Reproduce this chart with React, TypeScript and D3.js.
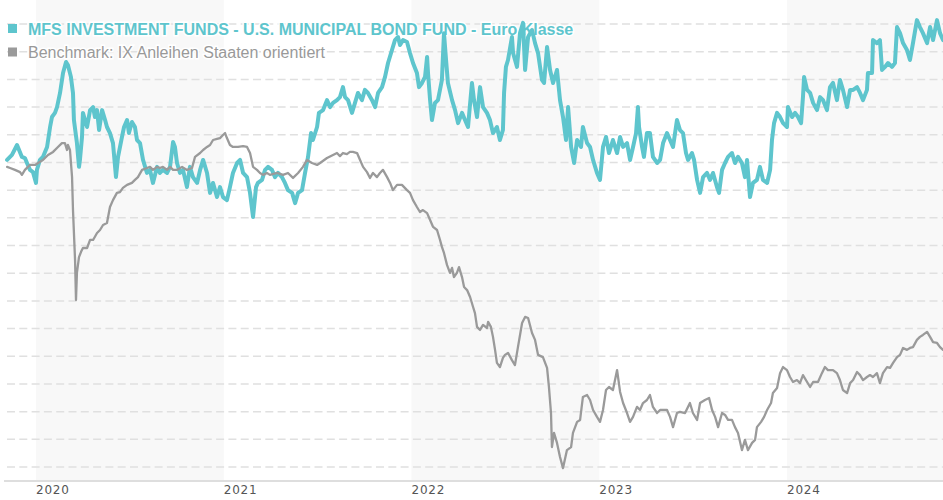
import React from "react";
import * as d3 from "d3";

// x: decimal year, y: index value (gridlines every 10)
const fundSeries: [number, number][] = [
  [2019.846, 110.9], [2019.872, 112.7], [2019.899, 116.3], [2019.925, 112.0], [2019.941, 111.6],
  [2019.952, 109.8], [2019.968, 107.3], [2019.984, 106.5], [2020.0, 102.6], [2020.005, 107.3],
  [2020.021, 110.9], [2020.037, 112.0], [2020.059, 115.6], [2020.075, 122.8], [2020.085, 126.4],
  [2020.101, 127.9], [2020.112, 130.0], [2020.128, 135.1], [2020.144, 142.3], [2020.16, 146.3],
  [2020.17, 145.2], [2020.186, 140.9], [2020.197, 135.1], [2020.202, 125.3], [2020.218, 117.0],
  [2020.229, 108.4], [2020.234, 110.9], [2020.245, 119.2], [2020.25, 127.9], [2020.261, 125.3],
  [2020.272, 122.8], [2020.288, 128.9], [2020.304, 130.0], [2020.314, 126.4], [2020.325, 128.9],
  [2020.336, 121.7], [2020.352, 128.9], [2020.368, 125.3], [2020.378, 122.8], [2020.394, 120.6],
  [2020.41, 117.0], [2020.426, 104.7], [2020.437, 112.0], [2020.458, 119.2], [2020.469, 122.8],
  [2020.485, 125.3], [2020.495, 120.6], [2020.511, 124.6], [2020.527, 122.8], [2020.538, 118.1],
  [2020.554, 117.0], [2020.57, 110.9], [2020.591, 106.2], [2020.607, 107.3], [2020.623, 102.6],
  [2020.645, 108.4], [2020.66, 106.2], [2020.676, 107.3], [2020.698, 106.2], [2020.714, 108.4],
  [2020.73, 117.4], [2020.74, 115.6], [2020.751, 109.8], [2020.767, 106.2], [2020.783, 107.3],
  [2020.804, 101.1], [2020.82, 108.4], [2020.836, 104.7], [2020.858, 102.6], [2020.874, 107.3],
  [2020.89, 110.9], [2020.911, 106.2], [2020.927, 99.0], [2020.943, 102.6], [2020.964, 97.5],
  [2020.98, 101.1], [2020.996, 97.5], [2021.017, 96.4], [2021.033, 101.1], [2021.049, 106.2],
  [2021.071, 109.8], [2021.087, 110.9], [2021.103, 106.2], [2021.124, 104.7], [2021.14, 99.0],
  [2021.156, 90.3], [2021.172, 101.1], [2021.182, 102.6], [2021.204, 103.7], [2021.22, 107.3],
  [2021.236, 108.4], [2021.257, 107.3], [2021.273, 104.7], [2021.289, 106.2], [2021.31, 104.7],
  [2021.326, 102.6], [2021.342, 100.0], [2021.364, 99.0], [2021.38, 95.3], [2021.396, 99.0],
  [2021.417, 100.0], [2021.433, 106.2], [2021.449, 112.0], [2021.465, 120.6], [2021.475, 118.1],
  [2021.497, 122.8], [2021.507, 127.9], [2021.529, 128.9], [2021.55, 132.5], [2021.566, 130.0],
  [2021.582, 131.5], [2021.603, 132.5], [2021.619, 133.6], [2021.635, 137.2], [2021.646, 133.6],
  [2021.662, 132.5], [2021.683, 127.9], [2021.699, 131.5], [2021.715, 135.1], [2021.736, 132.5],
  [2021.752, 136.2], [2021.768, 135.1], [2021.79, 132.5], [2021.806, 130.0], [2021.822, 135.1],
  [2021.843, 137.2], [2021.859, 140.9], [2021.875, 145.9], [2021.896, 150.6], [2021.912, 154.2],
  [2021.928, 155.3], [2021.939, 152.4], [2021.955, 154.2], [2021.976, 153.5], [2021.992, 149.5],
  [2022.008, 145.9], [2022.029, 142.3], [2022.04, 137.2], [2022.056, 138.7], [2022.072, 140.9],
  [2022.083, 148.1], [2022.088, 142.3], [2022.099, 132.5], [2022.109, 125.3], [2022.125, 131.5],
  [2022.141, 132.5], [2022.162, 139.8], [2022.173, 156.7], [2022.184, 147.0], [2022.194, 138.7],
  [2022.216, 132.5], [2022.232, 128.9], [2022.248, 124.2], [2022.269, 127.9], [2022.285, 125.3],
  [2022.301, 122.8], [2022.322, 138.7], [2022.333, 132.5], [2022.349, 126.4], [2022.365, 137.2],
  [2022.381, 130.0], [2022.402, 127.9], [2022.418, 125.3], [2022.434, 120.6], [2022.455, 122.8],
  [2022.471, 118.1], [2022.487, 121.7], [2022.493, 135.1], [2022.503, 144.5], [2022.514, 147.0],
  [2022.535, 155.3], [2022.541, 149.5], [2022.562, 144.5], [2022.578, 156.7], [2022.594, 160.4],
  [2022.605, 143.4], [2022.621, 155.3], [2022.642, 157.8], [2022.658, 153.1], [2022.674, 149.5],
  [2022.695, 139.8], [2022.706, 138.7], [2022.722, 151.7], [2022.738, 143.4], [2022.754, 138.7],
  [2022.775, 143.4], [2022.791, 132.5], [2022.807, 126.4], [2022.823, 118.1], [2022.834, 130.0],
  [2022.85, 115.6], [2022.866, 109.8], [2022.882, 118.1], [2022.903, 115.6], [2022.913, 122.8],
  [2022.935, 117.0], [2022.951, 115.6], [2022.967, 110.9], [2022.988, 106.2], [2023.004, 103.7],
  [2023.02, 115.6], [2023.036, 119.2], [2023.052, 113.4], [2023.073, 118.1], [2023.095, 113.4],
  [2023.111, 119.2], [2023.127, 115.6], [2023.148, 117.0], [2023.164, 110.9], [2023.18, 115.6],
  [2023.196, 120.6], [2023.206, 130.0], [2023.212, 122.8], [2023.228, 115.6], [2023.238, 112.0],
  [2023.254, 120.6], [2023.27, 120.6], [2023.286, 112.0], [2023.308, 109.8], [2023.324, 110.9],
  [2023.34, 117.0], [2023.361, 120.6], [2023.377, 118.1], [2023.393, 115.6], [2023.414, 125.3],
  [2023.43, 121.7], [2023.446, 120.6], [2023.462, 113.4], [2023.473, 110.9], [2023.494, 113.4],
  [2023.505, 110.9], [2023.521, 103.7], [2023.537, 99.0], [2023.553, 104.7], [2023.574, 106.2],
  [2023.59, 103.7], [2023.606, 106.2], [2023.627, 101.1], [2023.638, 99.0], [2023.654, 107.3],
  [2023.67, 109.8], [2023.686, 112.0], [2023.707, 113.4], [2023.723, 109.8], [2023.739, 112.0],
  [2023.76, 109.8], [2023.776, 104.7], [2023.787, 110.9], [2023.803, 97.5], [2023.819, 102.6],
  [2023.84, 103.7], [2023.856, 108.4], [2023.872, 103.7], [2023.894, 102.6], [2023.91, 107.3],
  [2023.92, 118.1], [2023.931, 124.2], [2023.947, 127.9], [2023.963, 126.4], [2023.979, 124.2],
  [2024.0, 122.8], [2024.005, 130.0], [2024.027, 126.4], [2024.043, 127.9], [2024.059, 126.4],
  [2024.075, 124.2], [2024.085, 133.6], [2024.091, 140.9], [2024.107, 136.2], [2024.123, 135.1],
  [2024.139, 131.5], [2024.16, 128.9], [2024.176, 133.6], [2024.192, 132.5], [2024.213, 128.9],
  [2024.229, 137.2], [2024.245, 138.7], [2024.266, 132.5], [2024.282, 139.8], [2024.298, 136.2],
  [2024.32, 130.0], [2024.336, 136.2], [2024.352, 136.2], [2024.373, 137.2], [2024.389, 135.1],
  [2024.405, 132.5], [2024.426, 136.2], [2024.431, 142.3], [2024.453, 142.3], [2024.458, 154.2],
  [2024.479, 153.1], [2024.495, 154.2], [2024.506, 143.4], [2024.522, 144.5], [2024.538, 145.9],
  [2024.559, 144.5], [2024.575, 145.9], [2024.586, 158.9], [2024.602, 156.7], [2024.618, 153.1],
  [2024.639, 150.6], [2024.655, 147.0], [2024.671, 153.1], [2024.692, 161.4], [2024.708, 158.9],
  [2024.724, 156.7], [2024.746, 153.1], [2024.762, 158.9], [2024.778, 154.2], [2024.799, 161.4],
  [2024.815, 156.7], [2024.831, 154.2],
];

const benchSeries: [number, number][] = [
  [2019.846, 108.4], [2019.862, 108.0], [2019.888, 107.3], [2019.915, 106.5], [2019.925, 105.5],
  [2019.941, 107.3], [2019.968, 109.1], [2019.995, 109.1], [2020.011, 109.8], [2020.037, 110.9],
  [2020.064, 112.7], [2020.091, 113.8], [2020.117, 115.6], [2020.138, 117.0], [2020.154, 117.0],
  [2020.165, 114.5], [2020.17, 116.3], [2020.181, 114.5], [2020.192, 104.7], [2020.197, 92.8],
  [2020.208, 74.8], [2020.213, 60.3], [2020.218, 70.1], [2020.229, 75.8], [2020.24, 77.7],
  [2020.25, 79.1], [2020.272, 79.1], [2020.288, 82.0], [2020.304, 82.0], [2020.325, 84.5],
  [2020.341, 85.6], [2020.357, 87.4], [2020.378, 88.1], [2020.394, 93.9], [2020.41, 96.4],
  [2020.431, 99.0], [2020.447, 99.3], [2020.463, 100.8], [2020.485, 101.9], [2020.511, 102.6],
  [2020.527, 103.7], [2020.543, 104.7], [2020.565, 107.3], [2020.591, 108.0], [2020.607, 108.4],
  [2020.623, 107.3], [2020.645, 108.4], [2020.66, 108.0], [2020.676, 108.4], [2020.698, 107.3],
  [2020.714, 108.4], [2020.73, 107.3], [2020.751, 107.3], [2020.778, 108.4], [2020.804, 107.3],
  [2020.831, 108.0], [2020.847, 112.0], [2020.874, 113.4], [2020.89, 114.5], [2020.911, 115.6],
  [2020.927, 116.3], [2020.943, 118.1], [2020.964, 118.5], [2020.98, 118.8], [2020.996, 119.9],
  [2021.007, 120.6], [2021.017, 118.8], [2021.033, 116.3], [2021.049, 115.6], [2021.076, 115.6],
  [2021.103, 115.9], [2021.124, 115.6], [2021.14, 113.4], [2021.156, 108.4], [2021.177, 107.3],
  [2021.193, 106.2], [2021.209, 105.5], [2021.23, 106.2], [2021.246, 105.5], [2021.284, 106.2],
  [2021.316, 105.5], [2021.342, 106.2], [2021.369, 104.4], [2021.396, 106.2], [2021.422, 108.4],
  [2021.443, 110.9], [2021.47, 109.8], [2021.497, 109.1], [2021.513, 109.8], [2021.55, 111.6],
  [2021.582, 112.7], [2021.603, 113.4], [2021.619, 112.3], [2021.635, 113.4], [2021.656, 113.0],
  [2021.672, 113.8], [2021.688, 113.8], [2021.71, 113.4], [2021.726, 110.9], [2021.742, 108.4],
  [2021.763, 106.5], [2021.779, 104.4], [2021.795, 106.2], [2021.816, 104.7], [2021.832, 106.2],
  [2021.848, 107.3], [2021.87, 104.7], [2021.886, 102.6], [2021.901, 100.0], [2021.923, 101.9],
  [2021.949, 101.9], [2021.976, 100.0], [2021.992, 99.0], [2022.008, 96.4], [2022.029, 93.9],
  [2022.045, 92.1], [2022.061, 92.8], [2022.083, 91.7], [2022.099, 89.2], [2022.115, 86.7],
  [2022.136, 85.6], [2022.152, 82.0], [2022.162, 79.5], [2022.173, 77.3], [2022.189, 73.0],
  [2022.205, 70.1], [2022.216, 71.9], [2022.226, 68.6], [2022.242, 70.1], [2022.253, 72.2],
  [2022.269, 68.6], [2022.28, 65.0], [2022.296, 63.9], [2022.312, 61.4], [2022.328, 57.8],
  [2022.338, 55.6], [2022.349, 50.6], [2022.365, 49.5], [2022.381, 51.3], [2022.402, 50.2],
  [2022.408, 52.4], [2022.423, 50.6], [2022.434, 47.0], [2022.445, 42.3], [2022.455, 37.6],
  [2022.471, 36.1], [2022.487, 39.4], [2022.498, 40.5], [2022.514, 41.2], [2022.535, 38.6],
  [2022.551, 36.8], [2022.567, 43.3], [2022.589, 52.0], [2022.605, 54.2], [2022.621, 53.8],
  [2022.642, 48.4], [2022.658, 45.9], [2022.674, 40.5], [2022.7, 39.7], [2022.722, 35.8],
  [2022.732, 28.9], [2022.743, 19.5], [2022.748, 7.2], [2022.759, 12.3], [2022.775, 8.7],
  [2022.791, 3.6], [2022.807, -0.4], [2022.828, 6.1], [2022.85, 7.2], [2022.86, 12.3],
  [2022.882, 16.3], [2022.898, 17.0], [2022.913, 25.3], [2022.935, 26.0], [2022.951, 24.2],
  [2022.967, 20.6], [2022.988, 18.1], [2023.004, 16.3], [2023.02, 20.6], [2023.036, 27.8],
  [2023.052, 28.9], [2023.073, 27.8], [2023.095, 35.0], [2023.111, 27.1], [2023.127, 23.1],
  [2023.148, 19.5], [2023.164, 16.3], [2023.18, 18.1], [2023.201, 21.7], [2023.217, 20.6],
  [2023.233, 23.1], [2023.254, 24.2], [2023.27, 26.0], [2023.286, 21.7], [2023.308, 19.5],
  [2023.324, 20.6], [2023.361, 20.6], [2023.377, 18.1], [2023.393, 14.4], [2023.414, 19.5],
  [2023.43, 19.9], [2023.457, 19.5], [2023.483, 23.1], [2023.499, 19.5], [2023.521, 17.0],
  [2023.537, 23.1], [2023.563, 24.2], [2023.585, 24.9], [2023.601, 20.6], [2023.617, 18.1],
  [2023.633, 14.4], [2023.654, 19.5], [2023.67, 18.8], [2023.686, 17.0], [2023.707, 17.0],
  [2023.723, 14.4], [2023.739, 12.3], [2023.76, 6.1], [2023.776, 9.8], [2023.792, 6.1],
  [2023.814, 8.7], [2023.83, 9.8], [2023.84, 14.4], [2023.862, 16.3], [2023.878, 18.1],
  [2023.894, 20.6], [2023.915, 23.1], [2023.925, 26.7], [2023.947, 28.5], [2023.963, 33.9],
  [2023.979, 36.1], [2024.0, 35.0], [2024.016, 32.5], [2024.032, 30.7], [2024.053, 31.4],
  [2024.069, 30.3], [2024.085, 33.2], [2024.107, 30.7], [2024.123, 28.9], [2024.139, 30.7],
  [2024.165, 30.7], [2024.186, 33.9], [2024.202, 36.1], [2024.218, 35.0], [2024.245, 35.0],
  [2024.266, 33.9], [2024.282, 31.4], [2024.298, 27.8], [2024.32, 26.7], [2024.336, 30.3],
  [2024.352, 31.4], [2024.373, 34.3], [2024.389, 33.2], [2024.405, 31.4], [2024.426, 32.5],
  [2024.442, 33.2], [2024.458, 32.5], [2024.479, 33.9], [2024.495, 30.3], [2024.511, 33.9],
  [2024.533, 36.1], [2024.549, 35.8], [2024.565, 37.6], [2024.586, 39.7], [2024.602, 40.5],
  [2024.618, 43.0], [2024.639, 42.3], [2024.655, 43.0], [2024.671, 43.3], [2024.692, 45.9],
  [2024.708, 47.0], [2024.724, 47.7], [2024.746, 48.8], [2024.762, 47.0], [2024.778, 45.1],
  [2024.799, 44.8], [2024.815, 43.3], [2024.831, 42.3],
];

const yearTicks = [2020, 2021, 2022, 2023, 2024];
const shadedYears = [2020, 2022, 2024];
const gridValues = [0, 10, 20, 30, 40, 50, 60, 70, 80, 90, 100, 110, 120, 130, 140, 150, 160];
const legendLabels = [
  "MFS INVESTMENT FUNDS - U.S. MUNICIPAL BOND FUND - Euro Klasse",
  "Benchmark: IX Anleihen Staaten orientiert",
];

const W = 943;
const H = 500;
const FUND_COLOR = "#5ec5cd";
const BENCH_COLOR = "#9a9a9a";

export default function App() {
  React.useEffect(() => {
    document.body.style.margin = "0";
  }, []);

  const x = d3.scaleLinear().domain([2020, 2025]).range([36, 36 + 5 * 187.75]);
  const y = d3.scaleLinear().domain([0, 160]).range([467, 24]);
  const axisY = 481;
  const gridX0 = 7;

  const line = d3
    .line<[number, number]>()
    .x((d) => x(d[0]))
    .y((d) => y(d[1]));

  return (
    <div style={{ position: "absolute", left: 0, top: 0 }}>
      <svg width={W} height={H} style={{ display: "block", background: "#fff" }}>
        {shadedYears.map((yr) => {
          const x0 = x(yr);
          const x1 = Math.min(W, x(yr + 1));
          return <rect key={yr} x={x0} y={0} width={x1 - x0} height={axisY} fill="#f8f8f8" />;
        })}
        {gridValues.map((v) => (
          <line
            key={v}
            x1={gridX0}
            x2={W}
            y1={y(v)}
            y2={y(v)}
            stroke="#e0e0e0"
            strokeWidth={1.5}
            strokeDasharray="8,4.3"
          />
        ))}
        <line x1={4} x2={W} y1={axisY} y2={axisY} stroke="#dedede" strokeWidth={2} />
        {yearTicks.map((yr) => (
          <text
            key={yr}
            x={x(yr)}
            y={494}
            fontFamily="'DejaVu Sans', Verdana, sans-serif"
            fontSize={12}
            letterSpacing={0.8}
            fill="#555"
          >
            {yr}
          </text>
        ))}
        <g fontFamily="'Liberation Sans', Arial, sans-serif" fontSize={16}>
          <rect x={8} y={24} width={9} height={9} fill={FUND_COLOR} />
          <text
            x={28}
            y={35}
            fontWeight="bold"
            fill={FUND_COLOR}
            stroke="#fff"
            strokeWidth={3}
            paintOrder="stroke"
          >
            {legendLabels[0]}
          </text>
          <rect x={8} y={47.5} width={9} height={9} fill={BENCH_COLOR} />
          <text
            x={28}
            y={57.5}
            fill="#999"
            stroke="#fff"
            strokeWidth={3}
            paintOrder="stroke"
          >
            {legendLabels[1]}
          </text>
        </g>
        <path
          d={line(fundSeries) || ""}
          fill="none"
          stroke={FUND_COLOR}
          strokeWidth={4}
          strokeLinejoin="round"
          strokeLinecap="round"
        />
        <path
          d={line(benchSeries) || ""}
          fill="none"
          stroke={BENCH_COLOR}
          strokeWidth={2.3}
          strokeLinejoin="round"
          strokeLinecap="round"
        />
      </svg>
    </div>
  );
}
